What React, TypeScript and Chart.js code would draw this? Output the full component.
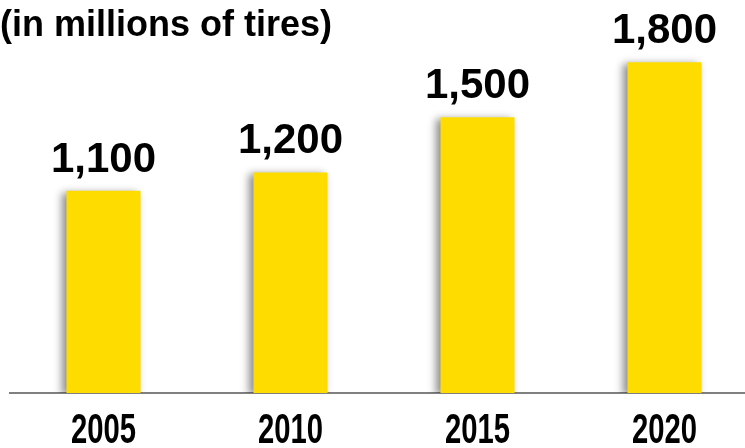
import React, { useEffect, useRef } from "react";
import { Chart, registerables } from "chart.js";

Chart.register(...registerables);

const categories = ["2005", "2010", "2015", "2020"];
const tireDemand = [1100, 1200, 1500, 1800];
const titleText = "(in millions of tires)";

const FONT = "'Liberation Sans', Arial, Helvetica, sans-serif";

const barShadow = {
  id: "barShadow",
  beforeDatasetsDraw(chart: any) {
    const ctx = chart.ctx;
    ctx.save();
    ctx.shadowColor = "rgba(0,0,0,0.45)";
    ctx.shadowBlur = 8;
    ctx.shadowOffsetX = -4;
    ctx.shadowOffsetY = 2;
  },
  afterDatasetsDraw(chart: any) {
    chart.ctx.restore();
  },
};

const labelsPlugin = {
  id: "labelsPlugin",
  afterDraw(chart: any) {
    const ctx = chart.ctx;
    const meta = chart.getDatasetMeta(0);
    const xScale = chart.scales.x;
    ctx.save();
    ctx.fillStyle = "#000";
    ctx.textAlign = "center";
    ctx.textBaseline = "alphabetic";
    // value labels
    ctx.font = `bold 42px ${FONT}`;
    meta.data.forEach((bar: any, i: number) => {
      const v = chart.data.datasets[0].data[i] as number;
      ctx.fillText(v.toLocaleString("en-US"), bar.x, bar.y - 19);
    });
    // category labels (condensed)
    ctx.font = `bold 43px ${FONT}`;
    xScale.ticks.forEach((_t: any, i: number) => {
      const x = xScale.getPixelForTick(i);
      const label = xScale.getLabelForValue(i);
      ctx.fillText(label, x, 443, 65);
    });
    ctx.restore();
  },
};

export default function App() {
  const ref = useRef<HTMLCanvasElement>(null);
  useEffect(() => {
    if (!ref.current) return;
    const chart = new Chart(ref.current, {
      type: "bar",
      data: {
        labels: categories,
        datasets: [
          {
            data: tireDemand,
            backgroundColor: "#FFDC00",
            borderWidth: 0,
            categoryPercentage: 1,
            barPercentage: 0.396,
          },
        ],
      },
      options: {
        responsive: false,
        animation: false,
        layout: { padding: { left: 0, right: 2, top: 0, bottom: 0 } },
        plugins: {
          legend: { display: false },
          tooltip: { enabled: false },
          title: {
            display: true,
            text: titleText,
            align: "start",
            color: "#000",
            font: { family: FONT, size: 36, weight: "bold" },
            padding: { top: 4, bottom: 4 },
          },
        },
        scales: {
          x: {
            grid: { display: false },
            border: { display: true, color: "#808080", width: 2 },
            ticks: { display: false },
            afterFit(scale: any) {
              scale.height = 55;
            },
          },
          y: {
            min: 0,
            max: 1860,
            display: true,
            grid: { display: false },
            border: { display: false },
            ticks: { display: false },
            afterFit(scale: any) {
              scale.width = 10;
            },
          },
        },
      },
      plugins: [barShadow, labelsPlugin],
    });
    return () => chart.destroy();
  }, []);
  return (
    <div
      style={{
        position: "fixed",
        left: 0,
        top: 0,
        width: 745,
        height: 448,
        overflow: "hidden",
        background: "#fff",
      }}
    >
      <canvas ref={ref} width={760} height={448} style={{ display: "block" }} />
    </div>
  );
}
